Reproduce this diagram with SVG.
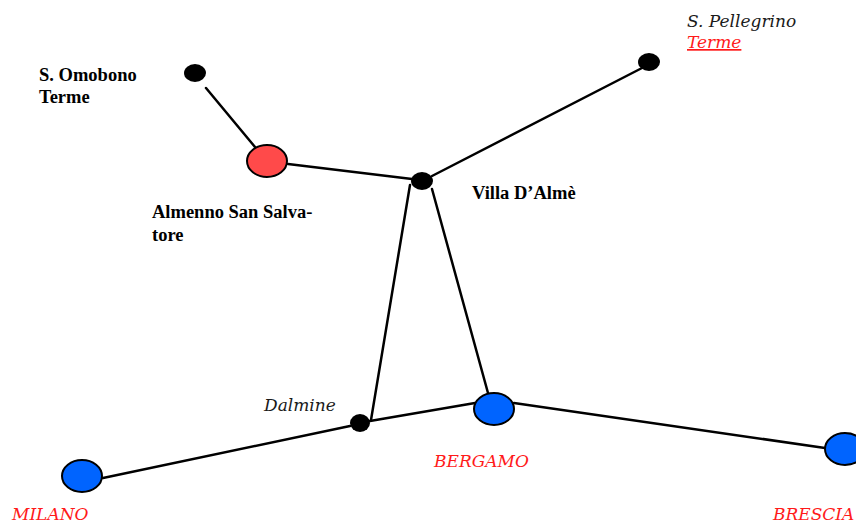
<svg xmlns="http://www.w3.org/2000/svg" width="856" height="523" viewBox="0 0 856 523">
<style>
.bold{font-family:"Liberation Serif","Times New Roman",serif;font-weight:bold;font-size:18.5px;fill:#000}
.it{font-family:"DejaVu Serif",serif;font-style:italic;font-size:17px}
.red{fill:#ff1a1a}
.blk{fill:#1a1a1a}
.dot{fill:#000}
.city{stroke:#000;stroke-width:2}
.blue{fill:#0064ff}
.rose{fill:#ff4a4a}
#connectors line{stroke:#000;stroke-width:2.5;stroke-linecap:round}
</style>
<rect width="856" height="523" fill="#fff"/>
<g id="connectors">
<line x1="206" y1="88" x2="255" y2="147"/>
<line x1="288" y1="164" x2="412" y2="179"/>
<line x1="432" y1="176" x2="642" y2="68"/>
<line x1="410" y1="185" x2="371" y2="420"/>
<line x1="432" y1="189" x2="488" y2="393"/>
<line x1="103" y1="478" x2="350" y2="426"/>
<line x1="370" y1="421" x2="475" y2="403"/>
<line x1="514" y1="403" x2="825" y2="448"/>
</g>
<g id="omobono">
<ellipse class="dot" cx="195" cy="73" rx="11" ry="9"/>
<text class="bold" x="39" y="81">S. Omobono</text>
<text class="bold" x="39" y="103">Terme</text>
</g>
<g id="almenno">
<ellipse class="city rose" cx="267" cy="161" rx="20" ry="16"/>
<text class="bold" x="152" y="218">Almenno San Salva-</text>
<text class="bold" x="152" y="241">tore</text>
</g>
<g id="villa">
<ellipse class="dot" cx="422" cy="181" rx="11" ry="9"/>
<text class="bold" x="472" y="199">Villa D’Almè</text>
</g>
<g id="pellegrino">
<ellipse class="dot" cx="649" cy="62" rx="11" ry="9"/>
<text class="it blk" x="687" y="27">S. Pellegrino</text>
<text class="it red" x="687" y="48" text-decoration="underline">Terme</text>
</g>
<g id="dalmine">
<ellipse class="dot" cx="360" cy="423" rx="10" ry="9"/>
<text class="it blk" x="264" y="411">Dalmine</text>
</g>
<g id="bergamo">
<ellipse class="city blue" cx="494" cy="409" rx="20" ry="16"/>
<text class="it red" x="434" y="467">BERGAMO</text>
</g>
<g id="milano">
<ellipse class="city blue" cx="82" cy="476" rx="20" ry="16"/>
<text class="it red" x="12" y="520">MILANO</text>
</g>
<g id="brescia">
<ellipse class="city blue" cx="845" cy="449" rx="20" ry="16"/>
<text class="it red" x="773" y="520">BRESCIA</text>
</g>
</svg>
